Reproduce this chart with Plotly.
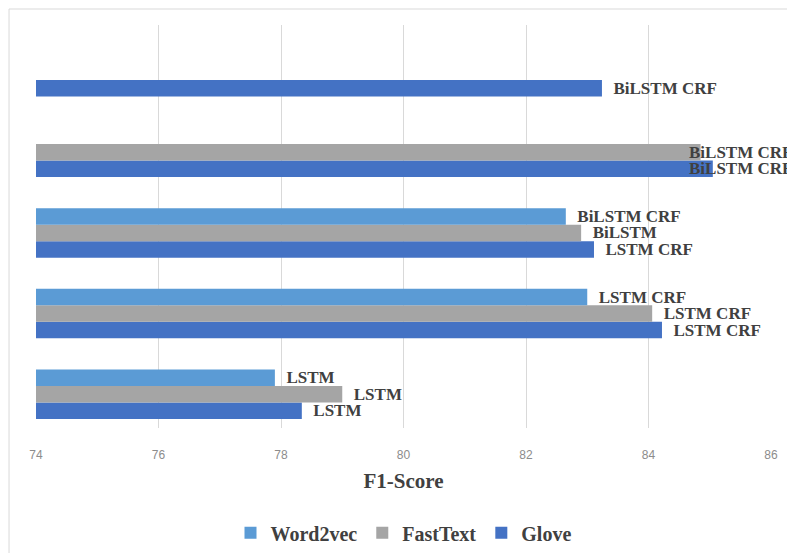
import plotly.graph_objects as go

# Model groups (bottom to top); y-axis labels are hidden
groups = ["Set 1", "Set 2", "Set 3", "Set 4", "Set 5"]

# F1-scores per embedding (None = no bar in that group)
word2vec_f1 = [77.90, 83.00, 82.65, None, None]
fasttext_f1 = [79.00, 84.06, 82.90, 84.85, None]
glove_f1 = [78.34, 84.22, 83.11, 85.05, 83.24]

# Model name shown next to each bar
word2vec_lbl = ["LSTM", "LSTM CRF", "BiLSTM CRF", "", ""]
fasttext_lbl = ["LSTM", "LSTM CRF", "BiLSTM", "BiLSTM CRF", ""]
glove_lbl = ["LSTM", "LSTM CRF", "LSTM CRF", "BiLSTM CRF", "BiLSTM CRF"]

# Groups whose labels were pulled left over the bar ends
shifted_group = "Set 4"

x_ticks = [74, 76, 78, 80, 82, 84, 86]

SERIF = "Times New Roman, Liberation Serif, serif"
TEXT_COLOR = "#404040"
LABEL_FONT = dict(family=SERIF, size=17, color=TEXT_COLOR, weight="bold")

series = [
    ("Glove", glove_f1, glove_lbl, "#4472C4"),
    ("FastText", fasttext_f1, fasttext_lbl, "#A5A5A5"),
    ("Word2vec", word2vec_f1, word2vec_lbl, "#5B9BD5"),
]

fig = go.Figure()
for name, vals, lbls, color in series:
    texts = []
    for g, t in zip(groups, lbls):
        texts.append("\u00a0\u00a0" + t if t and g != shifted_group else "")
    fig.add_trace(go.Bar(
        name=name,
        y=groups,
        x=[v - 74 if v is not None else None for v in vals],
        base=74,
        orientation="h",
        marker=dict(color=color, line=dict(width=0)),
        text=texts,
        textposition="outside",
        constraintext="none",
        cliponaxis=False,
        textfont=LABEL_FONT,
        hoverinfo="skip",
    ))

# Labels for the shifted group: placed from each bar's value, nudged left
gi = groups.index(shifted_group)
annotations = [
    dict(x=fasttext_f1[gi], y=shifted_group, xref="x", yref="y",
         text=fasttext_lbl[gi], showarrow=False, xanchor="left",
         xshift=-14, yshift=0, font=LABEL_FONT),
    dict(x=glove_f1[gi], y=shifted_group, xref="x", yref="y",
         text=glove_lbl[gi], showarrow=False, xanchor="left",
         xshift=-26, yshift=-16.5, font=LABEL_FONT),
]

fig.update_layout(
    width=787,
    height=553,
    margin=dict(l=36, r=16, t=25, b=125, autoexpand=False),
    paper_bgcolor="white",
    plot_bgcolor="white",
    barmode="group",
    bargap=0.386,
    bargroupgap=0,
    showlegend=True,
    legend=dict(
        orientation="h",
        x=0.5, xanchor="center",
        y=-0.26, yanchor="middle",
        traceorder="reversed",
        font=dict(family=SERIF, size=20, color=TEXT_COLOR, weight="bold"),
        itemwidth=30,
    ),
    xaxis=dict(
        range=[74, 86],
        tickvals=x_ticks,
        ticktext=[str(t) for t in x_ticks],
        showgrid=True,
        gridcolor="#D9D9D9",
        gridwidth=1,
        zeroline=False,
        showline=False,
        ticks="",
        automargin=False,
        ticklabelstandoff=18,
        tickfont=dict(family="Liberation Sans, Arial, sans-serif", size=12, color="#8C8C8C"),
        title=dict(
            text="F1-Score",
            font=dict(family=SERIF, size=21, color=TEXT_COLOR, weight="bold"),
            standoff=12,
        ),
        fixedrange=True,
    ),
    yaxis=dict(
        type="category",
        categoryorder="array",
        categoryarray=groups,
        range=[-0.42, 4.58],
        showticklabels=False,
        showgrid=False,
        zeroline=False,
        showline=False,
        ticks="",
        automargin=False,
        fixedrange=True,
    ),
    annotations=annotations,
    shapes=[
        # light chart-area frame (left and top edges visible)
        dict(type="rect", xref="paper", yref="paper",
             x0=-0.0367, x1=1.2, y0=-0.5, y1=1.0397,
             line=dict(color="#D9D9D9", width=1), fillcolor="rgba(0,0,0,0)",
             layer="below"),
    ],
)

fig.write_html("out.html")
